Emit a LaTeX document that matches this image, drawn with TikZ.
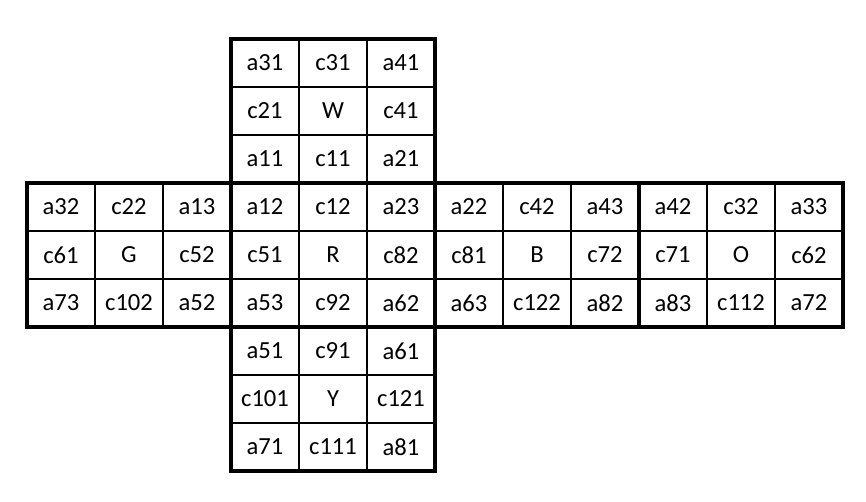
\documentclass[tikz,border=0pt]{standalone}
\usepackage{fontspec}
\setmainfont{Carlito}
\tikzset{
  cellline/.style={line width=0.6pt},
  faceedge/.style={line width=2.6pt},
  sticker/.style={font=\fontsize{14}{16}\selectfont, inner sep=0pt}
}
\begin{document}
\begin{tikzpicture}[x=0.02cm,y=-0.02cm]
  \useasboundingbox (0,0) rectangle (866,502);
  % thin lines inside the faces
  \foreach \yy in {231,279}
    \draw[cellline] (27,\yy) -- (843,\yy);
  \foreach \yy in {87,135,375,423}
    \draw[cellline] (231,\yy) -- (435,\yy);
  \foreach \xx in {95,163,503,571,707,775}
    \draw[cellline] (\xx,183) -- (\xx,327);
  \foreach \xx in {299,367}
    \draw[cellline] (\xx,39) -- (\xx,471);
  % face outlines
  \draw[faceedge] (231,39) rectangle (435,183);
  \draw[faceedge] (27,183) rectangle (231,327);
  \draw[faceedge] (231,183) rectangle (435,327);
  \draw[faceedge] (435,183) rectangle (639,327);
  \draw[faceedge] (639,183) rectangle (843,327);
  \draw[faceedge] (231,327) rectangle (435,471);
  % stickers
  \foreach \lbl [count=\i from 0] in {a31,c31,a41,c21,W,c41,a11,c11,a21}
    \node[sticker] (white-\i) at ({265+68*mod(\i,3)},{63+48*div(\i,3)}) {\lbl};
  \foreach \lbl [count=\i from 0] in {a32,c22,a13,c61,G,c52,a73,c102,a52}
    \node[sticker] (green-\i) at ({61+68*mod(\i,3)},{207+48*div(\i,3)}) {\lbl};
  \foreach \lbl [count=\i from 0] in {a12,c12,a23,c51,R,c82,a53,c92,a62}
    \node[sticker] (red-\i) at ({265+68*mod(\i,3)},{207+48*div(\i,3)}) {\lbl};
  \foreach \lbl [count=\i from 0] in {a22,c42,a43,c81,B,c72,a63,c122,a82}
    \node[sticker] (blue-\i) at ({469+68*mod(\i,3)},{207+48*div(\i,3)}) {\lbl};
  \foreach \lbl [count=\i from 0] in {a42,c32,a33,c71,O,c62,a83,c112,a72}
    \node[sticker] (orange-\i) at ({673+68*mod(\i,3)},{207+48*div(\i,3)}) {\lbl};
  \foreach \lbl [count=\i from 0] in {a51,c91,a61,c101,Y,c121,a71,c111,a81}
    \node[sticker] (yellow-\i) at ({265+68*mod(\i,3)},{351+48*div(\i,3)}) {\lbl};
\end{tikzpicture}
\end{document}
